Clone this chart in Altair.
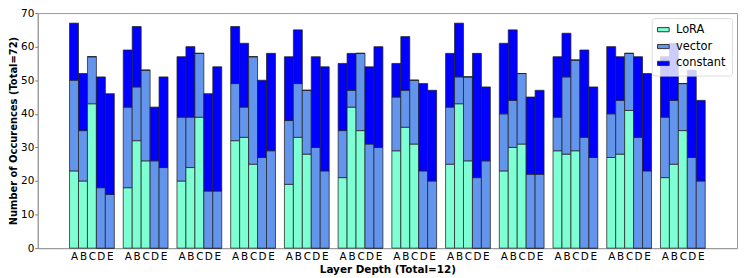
import altair as alt
import pandas as pd

letters = ["A", "B", "C", "D", "E"]
series = ["LoRA", "vector", "constant"]
colors = ["#7FFFD4", "#6495ED", "#0000FF"]
n_groups = 12

# segment sizes per bar, group by group (A..E)
lora = [23, 20, 43, 0, 0,
        18, 32, 26, 0, 0,
        20, 24, 39, 0, 0,
        32, 33, 25, 0, 0,
        19, 33, 28, 0, 0,
        21, 42, 35, 0, 0,
        29, 36, 31, 0, 0,
        25, 43, 26, 0, 0,
        23, 30, 31, 0, 0,
        29, 28, 29, 0, 0,
        27, 28, 41, 0, 0,
        21, 25, 35, 0, 0]
vector = [27, 15, 14, 18, 16,
          24, 16, 27, 26, 24,
          19, 15, 19, 17, 17,
          17, 9, 32, 27, 29,
          19, 16, 19, 30, 23,
          14, 5, 23, 31, 30,
          16, 11, 19, 23, 20,
          17, 8, 25, 21, 26,
          17, 14, 21, 22, 22,
          10, 23, 27, 33, 27,
          13, 16, 17, 33, 23,
          18, 19, 14, 27, 20]
constant = [17, 17, 0, 33, 30,
            17, 18, 0, 16, 27,
            18, 21, 0, 29, 37,
            17, 19, 0, 23, 29,
            19, 16, 0, 27, 31,
            20, 11, 0, 23, 30,
            10, 16, 0, 26, 27,
            16, 16, 0, 37, 22,
            21, 21, 0, 23, 25,
            18, 13, 0, 26, 21,
            20, 13, 0, 24, 29,
            18, 17, 0, 26, 24]
y_ticks = [0, 10, 20, 30, 40, 50, 60, 70]

rows = []
for gi in range(n_groups):
    for li in range(len(letters)):
        k = gi * 5 + li
        for si, vals in enumerate([lora, vector, constant]):
            rows.append({"group": gi, "letter": li, "series": series[si],
                         "order": si, "value": vals[k]})
df = pd.DataFrame(rows)

tick_pos = [g * 6 + i for g in range(n_groups) for i in range(5)]

FONT = "DejaVu Sans"

chart = alt.Chart(df).transform_calculate(
    pos="datum.group * 6 + datum.letter"
).transform_stack(
    stack="value", groupby=["pos"], as_=["y0", "y1"],
    sort=[alt.SortField("order", order="ascending")]
).transform_calculate(
    xl="datum.pos - 0.5", xr="datum.pos + 0.5"
).mark_bar(stroke="#222222", strokeWidth=1, strokeOpacity=0.75).encode(
    x=alt.X("xl:Q",
            scale=alt.Scale(domain=[-4.05, 74.05], nice=False, zero=False),
            axis=alt.Axis(values=tick_pos,
                          labelExpr="['A','B','C','D','E'][datum.value % 6]",
                          ticks=False, grid=False, labelOverlap=False,
                          labelFlush=False, labelPadding=3,
                          labelFontSize=10.5, labelFont=FONT, labelColor="#000",
                          title="Layer Depth (Total=12)", titleFont=FONT,
                          titleFontSize=10.5, titleFontWeight="bold",
                          titlePadding=3, titleColor="#000",
                          domainColor="#999999")),
    x2="xr:Q",
    y=alt.Y("y0:Q",
            scale=alt.Scale(domain=[0, 70], nice=False),
            axis=alt.Axis(values=y_ticks, grid=False, tickSize=3,
                          tickColor="#777777", labelPadding=1,
                          labelFontSize=10.5, labelFont=FONT, labelColor="#000",
                          title="Number of Occurences (Total=72)", titleFont=FONT,
                          titleFontSize=10, titleFontWeight="bold",
                          titlePadding=2, titleColor="#000",
                          domainColor="#999999")),
    y2="y1:Q",
    color=alt.Color("series:N",
                    scale=alt.Scale(domain=series, range=colors),
                    legend=alt.Legend(title=None, orient="top-right", offset=5,
                                      fillColor="rgba(255,255,255,0.8)",
                                      strokeColor="#dddddd", cornerRadius=3,
                                      padding=6, labelFont=FONT,
                                      labelFontSize=11.5, labelColor="#000",
                                      symbolType="M-1.4,-0.5H1.4V0.5H-1.4Z",
                                      symbolSize=70, symbolStrokeColor="#333333",
                                      symbolStrokeWidth=1, symbolOpacity=1,
                                      rowPadding=4, labelOffset=7)),
).properties(
    width=705, height=237,
    autosize=alt.AutoSizeParams(type="none"),
    padding={"left": 30, "top": 4, "right": 1, "bottom": 30},
).configure_view(stroke="#999999")

chart.save("out.html", embed_options={"renderer": "svg", "actions": False})
